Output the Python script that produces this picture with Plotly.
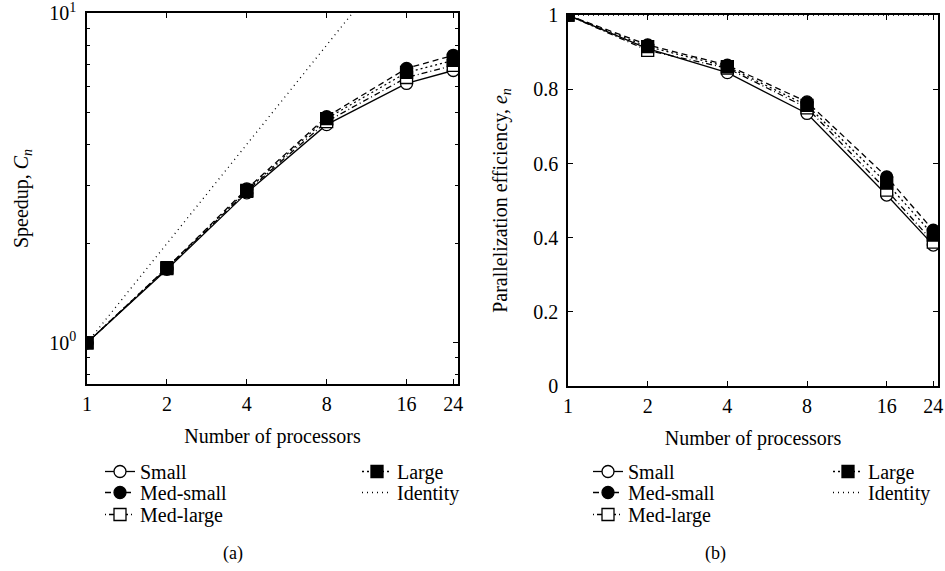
import plotly.graph_objects as go

# ---------------- data ----------------
processors = [1, 2, 4, 8, 16, 24]
tick_labels = ["1", "2", "4", "8", "16", "24"]

speedup_small = [1.0, 1.67, 2.85, 4.59, 6.12, 6.70]
speedup_med_small = [1.0, 1.69, 2.93, 4.85, 6.80, 7.45]
speedup_med_large = [1.0, 1.68, 2.88, 4.69, 6.38, 6.94]
speedup_large = [1.0, 1.69, 2.90, 4.79, 6.61, 7.19]
identity = [1, 2, 4, 8, 16, 24]

eff_small = [1.0, 0.910, 0.845, 0.735, 0.515, 0.380]
eff_med_small = [1.0, 0.920, 0.865, 0.766, 0.564, 0.420]
eff_med_large = [1.0, 0.905, 0.857, 0.750, 0.528, 0.388]
eff_large = [1.0, 0.915, 0.861, 0.757, 0.547, 0.407]
eff_identity = [1, 1, 1, 1, 1, 1]

FONT = "Liberation Serif"
W, H = 945, 571

def px(x):
    return x / W

def py(y):
    return 1 - y / H

series = [
    ("Small", "solid", "circle", "white"),
    ("Med-small", "6px,4px", "circle", "black"),
    ("Med-large", "1px,3px,6px,3px", "square", "white"),
    ("Large", "2px,3px", "square", "black"),
]
# legend slots: (left-panel x, right-panel x, row top y) in page pixels
legend_slots = [(100, 588, 452), (100, 588, 473), (100, 588, 495), (357, 828, 452), (357, 828, 473)]

fig = go.Figure()
left_vals = [speedup_small, speedup_med_small, speedup_med_large, speedup_large]
right_vals = [eff_small, eff_med_small, eff_med_large, eff_large]

legend_layout = {}
leg_common = dict(bgcolor="rgba(0,0,0,0)", borderwidth=0, itemwidth=30,
                  tracegroupgap=0, xanchor="left", yanchor="top",
                  font=dict(family=FONT, size=20, color="black"))

def leg_name(k):
    return "legend" if k == 1 else f"legend{k}"

k = 1
for i, (name, dash, sym, fill) in enumerate(series):
    lx, rx, ly = legend_slots[i]
    for vals, xa, ya, lxx in [(left_vals[i], "x", "y", lx), (right_vals[i], "x2", "y2", rx)]:
        ln = leg_name(k)
        fig.add_trace(go.Scatter(
            x=processors, y=vals, name=name, mode="lines+markers",
            xaxis=xa, yaxis=ya, legend=ln,
            line=dict(color="black", width=1.3, dash=dash),
            marker=dict(symbol=sym, size=12, color=fill,
                        line=dict(color="black", width=1.3)),
        ))
        legend_layout[ln] = dict(leg_common, x=px(lxx), y=py(ly))
        k += 1

lx, rx, ly = legend_slots[4]
for vals, xa, ya, lxx in [(identity, "x", "y", lx), (eff_identity, "x2", "y2", rx)]:
    ln = leg_name(k)
    fig.add_trace(go.Scatter(x=processors, y=vals, name="Identity", mode="lines",
                             xaxis=xa, yaxis=ya, legend=ln,
                             line=dict(color="black", width=1.3, dash="1px,4px")))
    legend_layout[ln] = dict(leg_common, x=px(lxx), y=py(ly))
    k += 1

tick_font = dict(family=FONT, size=20, color="black")

xbase = dict(type="log", range=[0, 1.39794], tickmode="array", tickvals=processors,
             ticktext=tick_labels, ticks="inside", ticklen=5, tickwidth=1.3,
             tickcolor="black", showline=True, linecolor="black", linewidth=1.5,
             mirror="ticks", showgrid=False, zeroline=False, ticklabelstandoff=1,
             ticklabeloverflow="allow", automargin=False, tickfont=tick_font,
             title=dict(text="Number of processors", standoff=15, font=tick_font))

fig.update_layout(
    width=W, height=H, margin=dict(l=0, r=0, t=0, b=0, autoexpand=False),
    paper_bgcolor="white", plot_bgcolor="white",
    font=dict(family=FONT, size=20, color="black"),
    xaxis=dict(xbase, domain=[px(87), px(458)], anchor="y"),
    xaxis2=dict(xbase, domain=[px(568), px(938)], anchor="y2"),
    yaxis=dict(type="log", range=[-0.1249, 1.0005], domain=[py(384), py(13)], anchor="x",
               tickmode="array", tickvals=[1, 10],
               ticktext=["10<sup>0</sup>", "10<sup>1</sup>"],
               ticks="inside", ticklen=5, tickwidth=1.3, tickcolor="black",
               minor=dict(tickmode="array", tickvals=[0.8, 0.9, 2, 3, 4, 5, 6, 7, 8, 9],
                          ticks="inside", ticklen=3, tickwidth=1, tickcolor="black"),
               showline=True, linecolor="black", linewidth=1.5, mirror="ticks",
               showgrid=False, zeroline=False, ticklabelstandoff=5, automargin=False,
               ticklabeloverflow="allow", tickfont=tick_font,
               title=dict(text="Speedup, <i>C<sub>n</sub></i>", standoff=15, font=tick_font)),
    yaxis2=dict(range=[0, 1.0005], domain=[py(386), py(15)], anchor="x2",
                tickmode="array", tickvals=[0, 0.2, 0.4, 0.6, 0.8, 1],
                ticktext=["0", "0.2", "0.4", "0.6", "0.8", "1"],
                ticks="inside", ticklen=5, tickwidth=1.3, tickcolor="black",
                showline=True, linecolor="black", linewidth=1.5, mirror="ticks",
                showgrid=False, zeroline=False, ticklabelstandoff=4, automargin=False,
                ticklabeloverflow="allow", tickfont=tick_font,
                title=dict(text="Parallelization efficiency, <i>e<sub>n</sub></i>",
                           standoff=20, font=tick_font)),
    showlegend=True,
    **legend_layout,
)

fig.add_annotation(text="(a)", x=px(233), y=py(553), xref="paper", yref="paper",
                   xanchor="center", yanchor="middle",
                   showarrow=False, font=dict(family=FONT, size=18, color="black"))
fig.add_annotation(text="(b)", x=px(715), y=py(553), xref="paper", yref="paper",
                   xanchor="center", yanchor="middle",
                   showarrow=False, font=dict(family=FONT, size=18, color="black"))

fig.write_html("out.html", config={"displayModeBar": False},
               post_script="document.body.style.margin='0';document.body.style.overflow='hidden';")
